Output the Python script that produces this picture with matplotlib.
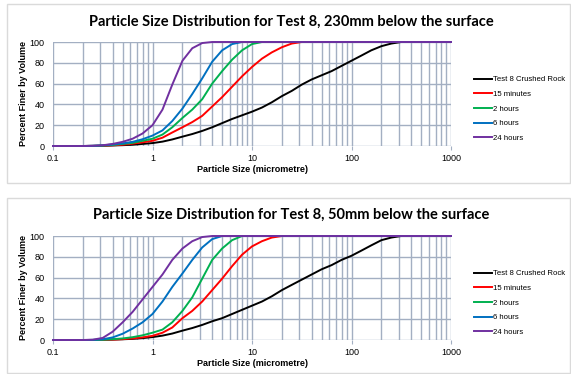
import matplotlib
matplotlib.use("Agg")
import matplotlib.pyplot as plt
from matplotlib.patches import Rectangle
from matplotlib.ticker import FixedLocator, LogLocator, NullFormatter

# particle sizes (micrometre), 10 bins per decade, shared by every series
sizes = [0.1, 0.126, 0.158, 0.2, 0.251, 0.316, 0.398, 0.501, 0.631, 0.794,
         1, 1.26, 1.58, 2, 2.51, 3.16, 3.98, 5.01, 6.31, 7.94,
         10, 12.6, 15.8, 20, 25.1, 31.6, 39.8, 50.1, 63.1, 79.4,
         100, 126, 158, 200, 251, 316, 398, 501, 631, 794,
         1000]

# 230mm below the surface
rock_230 = [0, 0, 0, 0, 0.1, 0.2, 0.5, 0.8, 1.2, 2,
            2.8, 4.2, 6.3, 9, 11.5, 14.5, 18, 22, 26, 29.5,
            33, 37, 42, 48, 53, 59, 64, 68, 72, 77,
            82, 87, 92, 96, 98.5, 100, 100, 100, 100, 100,
            100]
min15_230 = [0, 0, 0, 0, 0.1, 0.3, 0.7, 1.2, 2.2, 3.5,
             5, 8, 13, 18, 23, 29, 38, 47, 57, 67,
             76, 84, 90, 95, 98.5, 100, 100, 100, 100, 100,
             100, 100, 100, 100, 100, 100, 100, 100, 100, 100,
             100]
h2_230 = [0, 0, 0, 0, 0.1, 0.4, 1, 2, 3, 5,
          7, 11, 18, 27, 35, 45, 60, 72, 83, 92,
          98, 100, 100, 100, 100, 100, 100, 100, 100, 100,
          100, 100, 100, 100, 100, 100, 100, 100, 100, 100,
          100]
h6_230 = [0, 0, 0, 0, 0.2, 0.6, 1.5, 2.5, 4, 6.5,
          10, 15, 24, 36, 50, 65, 81, 92, 98, 100,
          100, 100, 100, 100, 100, 100, 100, 100, 100, 100,
          100, 100, 100, 100, 100, 100, 100, 100, 100, 100,
          100]
h24_230 = [0, 0, 0, 0, 0.2, 0.7, 2, 4, 7, 12,
           20, 35, 59, 82, 94, 99, 100, 100, 100, 100,
           100, 100, 100, 100, 100, 100, 100, 100, 100, 100,
           100, 100, 100, 100, 100, 100, 100, 100, 100, 100,
           100]

# 50mm below the surface
rock_50 = [0, 0, 0, 0, 0.05, 0.15, 0.4, 0.7, 1.1, 1.8,
           2.8, 4.2, 6.2, 9, 11.5, 14.5, 18, 21, 25, 29,
           33, 37, 42, 48, 53, 58, 63, 68, 72, 77,
           81, 86, 91, 96, 98.5, 100, 100, 100, 100, 100,
           100]
min15_50 = [0, 0, 0, 0, 0, 0.1, 0.4, 0.8, 1.5, 2.5,
            4, 7, 12, 21, 28, 37, 48, 59, 71, 82,
            90, 95, 98.5, 100, 100, 100, 100, 100, 100, 100,
            100, 100, 100, 100, 100, 100, 100, 100, 100, 100,
            100]
h2_50 = [0, 0, 0, 0, 0.05, 0.2, 0.8, 1.5, 2.7, 4.5,
         7, 10, 17, 28, 41, 59, 77, 88, 96, 100,
         100, 100, 100, 100, 100, 100, 100, 100, 100, 100,
         100, 100, 100, 100, 100, 100, 100, 100, 100, 100,
         100]
h6_50 = [0, 0, 0, 0, 0.1, 0.7, 2.5, 6, 11, 17,
         25, 37, 51, 64, 77, 89, 97, 100, 100, 100,
         100, 100, 100, 100, 100, 100, 100, 100, 100, 100,
         100, 100, 100, 100, 100, 100, 100, 100, 100, 100,
         100]
h24_50 = [0, 0, 0, 0, 0.3, 2, 8, 17, 27, 39,
          51, 63, 77, 88, 95, 99, 100, 100, 100, 100,
          100, 100, 100, 100, 100, 100, 100, 100, 100, 100,
          100, 100, 100, 100, 100, 100, 100, 100, 100, 100,
          100]

labels = ["Test 8 Crushed Rock", "15 minutes", "2 hours", "6 hours", "24 hours"]
colors = ["#000000", "#FF0000", "#00B050", "#0070C0", "#7030A0"]
titles = ["Particle Size Distribution for Test 8, 230mm below the surface",
          "Particle Size Distribution for Test 8, 50mm below the surface"]
panels = [[rock_230, min15_230, h2_230, h6_230, h24_230],
          [rock_50, min15_50, h2_50, h6_50, h24_50]]

W, H = 571, 374
fig = plt.figure(figsize=(W / 100, H / 100), dpi=100)
plt.rcParams['font.family'] = ['Liberation Sans', 'DejaVu Sans']

grid_c = "#A3AFC2"

# pixel layout: (box top, box bottom, plot top, plot bottom, title y, legend top)
layout = [(4, 183, 42, 146, 22, 76),
          (198, 373, 236, 340, 215, 270)]

for (btop, bbot, ptop, pbot, ty, ltop), series, title in zip(layout, panels, titles):
    fig.patches.append(Rectangle((7 / W, 1 - bbot / H), (W - 8) / W, (bbot - btop) / H,
                                 transform=fig.transFigure, fill=False,
                                 edgecolor="#DADADA", lw=1))
    ax = fig.add_axes([53 / W, 1 - pbot / H, 398 / W, (pbot - ptop) / H])
    for vals, lab, c in zip(series, labels, colors):
        ax.plot(sizes, vals, color=c, lw=1.4, label=lab, zorder=3, clip_on=False)
    ax.set_xscale("log")
    ax.set_xlim(0.1, 1000)
    ax.set_ylim(0, 100)
    ax.set_yticks([0, 20, 40, 60, 80, 100])
    ax.xaxis.set_major_locator(FixedLocator([0.1, 1, 10, 100, 1000]))
    ax.set_xticklabels(["0.1", "1", "10", "100", "1000"])
    ax.xaxis.set_minor_locator(LogLocator(base=10, subs=range(2, 10)))
    ax.xaxis.set_minor_formatter(NullFormatter())
    ax.grid(True, which="both", axis="x", color=grid_c, lw=1.0, zorder=0)
    ax.grid(True, which="major", axis="y", color=grid_c, lw=1.0, zorder=0)
    for s in ax.spines.values():
        s.set_visible(False)
    ax.tick_params(axis="x", which="major", length=3, color=grid_c, labelsize=6.5, pad=2.5)
    ax.tick_params(axis="x", which="minor", length=0)
    ax.tick_params(axis="y", length=0, labelsize=6.5, pad=6)
    ax.set_xlabel("Particle Size (micrometre)", fontsize=6.5, fontweight="bold")
    ax.xaxis.set_label_coords(0.5, -0.18)
    ax.set_ylabel("Percent Finer by Volume", fontsize=6.5, fontweight="bold")
    ax.yaxis.set_label_coords(-0.062, 0.5)
    fig.text(291 / W, 1 - ty / H, title, ha="center", va="center",
             fontsize=10.5, fontweight="bold", family=["Lato", "DejaVu Sans"])
    ax.legend(loc="upper left", bbox_to_anchor=(474 / W, 1 - ltop / H),
              bbox_transform=fig.transFigure, frameon=False, fontsize=5.6,
              handlelength=2.3, handletextpad=0.12, labelspacing=0.93,
              borderaxespad=0, borderpad=0)

fig.savefig("out.png", dpi=100)
